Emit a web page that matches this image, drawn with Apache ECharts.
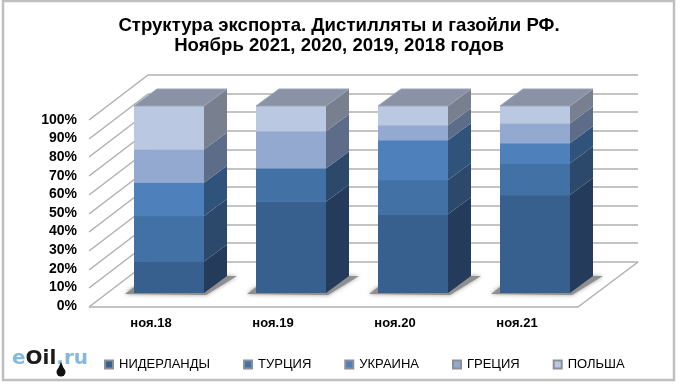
<!DOCTYPE html>
<html><head><meta charset="utf-8">
<style>html,body{margin:0;padding:0;background:#fff}#c{width:680px;height:385px}</style>
<script src="https://cdn.jsdelivr.net/npm/echarts@6/dist/echarts.min.js"></script>
</head><body><div id="c"></div>
<script>
const categories = ['ноя.18','ноя.19','ноя.20','ноя.21'];
const niderlandy = [16.9, 48.8, 42.1, 52.4];
const turtsiya   = [24.3, 17.8, 18.3, 17.0];
const ukraina    = [17.8, 0, 21.3, 10.7];
const gretsiya   = [17.8, 19.9, 8.0, 10.5];
const polsha     = [23.2, 13.5, 10.3, 9.4];
const seriesNames = ['НИДЕРЛАНДЫ','ТУРЦИЯ','УКРАИНА','ГРЕЦИЯ','ПОЛЬША'];
const seriesValues = [niderlandy, turtsiya, ukraina, gretsiya, polsha];
const yTicks = [0,10,20,30,40,50,60,70,80,90,100];

const frontColors = ['#37608e','#4271a6','#4e80bc','#94a9d0','#bac8e1'];
const edgeColors  = ['#42699a','#4c7ab0','#5a8ac4','#a0b3d8','#c8d4ea'];
const sideColors  = ['#243b5b','#2c496c','#30537c','#5d6c88','#788090'];
const topColor = '#8a93a6';
const BAR_W = 70, DX = 23, DY = -17;

const stacked = seriesValues.map((vals, s) => vals.map((v, i) => {
  let base = 0;
  for (let k = 0; k < s; k++) base += seriesValues[k][i];
  return [i, base, base + v];
}));

function barSeries(s) {
  return {
    type: 'custom', name: seriesNames[s], z: 5 + s, clip: false,
    itemStyle: { color: frontColors[s], borderColor: '#8a8f98', borderWidth: 1 },
    encode: { x: 0, y: [1, 2] },
    data: stacked[s],
    renderItem(params, api) {
      const c = api.value(0), a = api.coord([c, api.value(1)]), b = api.coord([c, api.value(2)]);
      if (api.value(2) - api.value(1) <= 0) return { type: 'group', children: [] };
      const x0 = a[0] - BAR_W / 2, x1 = x0 + BAR_W, yb = a[1], yt = b[1];
      const kids = [
        { type: 'polygon', shape: { points: [[x1,yb],[x1+DX,yb+DY],[x1+DX,yt+DY],[x1,yt]] },
          style: { fill: sideColors[s] } },
        { type: 'rect', shape: { x: x0, y: yt, width: BAR_W, height: yb - yt },
          style: { fill: frontColors[s] } },
        { type: 'line', shape: { x1: x0, y1: yt, x2: x1, y2: yt }, style: { stroke: edgeColors[s], lineWidth: 1 } }
      ];
      if (api.value(2) >= 99.9) {
        kids.push({ type: 'polygon', shape: { points: [[x0,yt],[x0+DX,yt+DY],[x1+DX,yt+DY],[x1,yt]] },
          style: { fill: topColor, stroke: '#9aa2b4', lineWidth: 1 } });
      }
      return { type: 'group', children: kids };
    }
  };
}

const wallSeries = {
  type: 'custom', name: 'walls', z: 1, clip: false, silent: true,
  data: yTicks.map(v => [0, v]),
  encode: { y: 1 },
  renderItem(params, api) {
    const v = api.value(1), p = api.coord([0, v]), y = Math.round(p[1]);
    const left = params.coordSys.x, right = left + params.coordSys.width;
    const st = { stroke: '#b0b0b0', lineWidth: 1.5 };
    const kids = [
      { type: 'line', shape: { x1: left + 40, y1: y - 31, x2: right + 42, y2: y - 31 }, style: st },
      { type: 'line', shape: { x1: left - 19, y1: y + 14, x2: left + 40, y2: y - 31 }, style: st }
    ];
    if (v === 0) {
      kids.push({ type: 'line', shape: { x1: left - 19, y1: y + 14, x2: right - 18, y2: y + 14 }, style: st });
      kids.push({ type: 'line', shape: { x1: right - 18, y1: y + 14, x2: right + 42, y2: y - 31 }, style: st });
    }
    return { type: 'group', children: kids };
  }
};

const shadowSeries = {
  type: 'custom', name: 'shadow', z: 2, clip: false, silent: true,
  data: categories.map((c, i) => [i, 0]),
  encode: { x: 0, y: 1 },
  renderItem(params, api) {
    const p = api.coord([api.value(0), 0]);
    const x0 = p[0] - BAR_W / 2, x1 = x0 + BAR_W, y = p[1];
    return { type: 'polygon',
      shape: { points: [[x0 - 9, y + 1],[x0, y - 6],[x1 + DX, y + DY],[x1 + DX + 10, y + DY],[x1 + 2, y + 2]] },
      style: { fill: '#8f8f8f', shadowBlur: 4, shadowColor: 'rgba(90,90,90,0.6)' } };
  }
};

const chart = echarts.init(document.getElementById('c'), null, { renderer: 'canvas' });
chart.setOption({
  animation: false,
  backgroundColor: '#fff',
  title: {
    text: 'Структура экспорта. Дистилляты и газойли РФ.\nНоябрь 2021, 2020, 2019, 2018 годов',
    left: 334, top: 11, textAlign: 'center',
    textStyle: { fontFamily: 'Liberation Sans', fontSize: 18.6, fontWeight: 'bold', color: '#000', lineHeight: 20 }
  },
  grid: [
    { left: 108, right: 84, top: 106, bottom: 92 },
    { left: 108, right: 84, top: 120, bottom: 79 }
  ],
  xAxis: [{
    type: 'category', data: categories, boundaryGap: true, gridIndex: 0,
    axisLine: { show: false }, axisTick: { show: false },
    axisLabel: { margin: 24, padding: [0, 36, 0, 0], interval: 0,
      fontFamily: 'Liberation Sans', fontSize: 13, fontWeight: 'bold', color: '#000' }
  }, {
    type: 'category', data: categories, gridIndex: 1, show: false
  }],
  yAxis: [{
    type: 'value', min: 0, max: 100, interval: 10, gridIndex: 0, show: false
  }, {
    type: 'value', min: 0, max: 100, interval: 10, gridIndex: 1,
    axisLine: { show: false }, axisTick: { show: false }, splitLine: { show: false },
    axisLabel: { margin: 31, formatter: '{value}%',
      fontFamily: 'Liberation Sans', fontSize: 14, fontWeight: 'bold', color: '#000' }
  }],
  legend: {
    data: seriesNames, left: 99, top: 353, itemWidth: 8, itemHeight: 8, itemGap: 33, icon: 'rect',
    textStyle: { fontFamily: 'Liberation Sans', fontSize: 13, color: '#000', padding: [0, 0, 0, 1] }
  },
  graphic: [
    { type: 'rect', z: 0, silent: true, shape: { x: 3, y: 1, width: 671, height: 379 },
      style: { fill: 'transparent', stroke: '#bfbfbf', lineWidth: 2.5 } },
    { type: 'text', left: 12, top: 349, silent: true, style: {
        rich: {
          a: { fill: '#86b8de', fontFamily: 'DejaVu Sans', fontWeight: 'bold', fontSize: 20 },
          b: { fill: '#1a1a1a', fontFamily: 'DejaVu Sans', fontWeight: 'bold', fontSize: 20 }
        },
        text: '{a|e}{b|Oil}{a|.ru}' } },
    { type: 'circle', silent: true, shape: { cx: 61, cy: 372, r: 4.5 }, style: { fill: '#111' } },
    { type: 'polygon', silent: true, shape: { points: [[61,362],[64,369],[58,369]] }, style: { fill: '#111' } }
  ],
  series: [wallSeries, shadowSeries].concat(seriesNames.map((n, s) => barSeries(s)))
});
</script></body></html>
